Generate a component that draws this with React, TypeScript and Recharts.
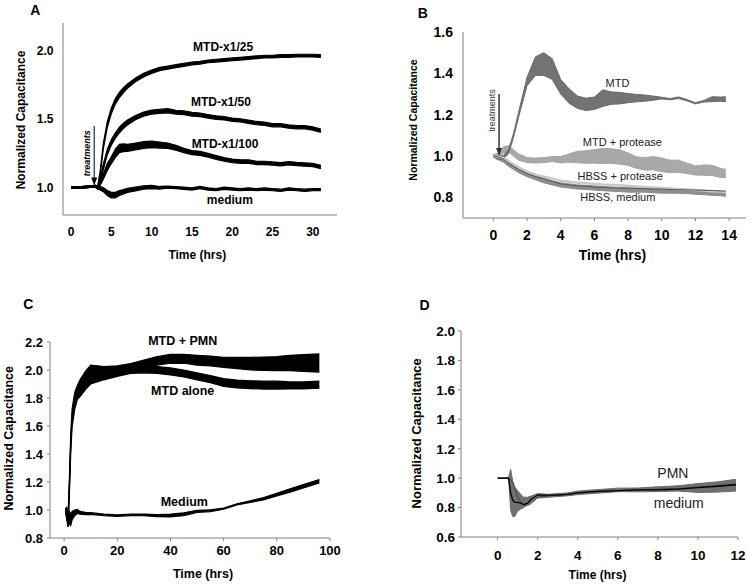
import React from 'react';
import { ComposedChart, Area, Line, XAxis, YAxis, ReferenceDot, ReferenceLine } from 'recharts';

const FONT = '"Liberation Sans", Arial, Helvetica, sans-serif';
const W = 750;
const H = 586;

// ---------------- Panel A ----------------
const timeA = [0, 1, 2, 3, 3.3, 3.6, 4, 4.5, 5, 5.5, 6, 6.5, 7, 8, 9, 10, 11, 12, 13, 14, 15, 16, 17, 18, 19, 20, 21, 22, 23, 24, 25, 26, 27, 28, 29, 30, 31];
const mtd25Mean = [1.0, 1.0, 1.005, 1.01, 1.0, 1.1, 1.3, 1.46, 1.56, 1.63, 1.675, 1.71, 1.74, 1.785, 1.82, 1.845, 1.865, 1.875, 1.885, 1.895, 1.905, 1.91, 1.92, 1.925, 1.93, 1.935, 1.94, 1.945, 1.95, 1.955, 1.955, 1.96, 1.96, 1.962, 1.962, 1.962, 1.96];
const mtd25Sem = [0.006, 0.006, 0.006, 0.006, 0.01, 0.015, 0.02, 0.02, 0.02, 0.02, 0.02, 0.018, 0.016, 0.014, 0.013, 0.012, 0.012, 0.011, 0.011, 0.011, 0.01, 0.01, 0.01, 0.01, 0.01, 0.01, 0.01, 0.01, 0.01, 0.01, 0.01, 0.01, 0.01, 0.01, 0.01, 0.01, 0.01];
const mtd50Mean = [1.0, 1.0, 1.005, 1.01, 1.0, 1.05, 1.15, 1.26, 1.33, 1.38, 1.42, 1.45, 1.475, 1.51, 1.535, 1.55, 1.555, 1.56, 1.55, 1.545, 1.535, 1.53, 1.52, 1.51, 1.505, 1.495, 1.49, 1.48, 1.47, 1.465, 1.455, 1.455, 1.445, 1.44, 1.44, 1.43, 1.415];
const mtd50Sem = [0.006, 0.006, 0.006, 0.006, 0.01, 0.015, 0.02, 0.02, 0.02, 0.02, 0.02, 0.02, 0.018, 0.016, 0.015, 0.015, 0.015, 0.015, 0.014, 0.014, 0.014, 0.013, 0.013, 0.013, 0.012, 0.012, 0.012, 0.012, 0.012, 0.012, 0.012, 0.012, 0.012, 0.012, 0.012, 0.012, 0.012];
const mtd100Mean = [1.0, 1.0, 1.005, 1.01, 1.0, 1.03, 1.08, 1.15, 1.2, 1.25, 1.285, 1.29, 1.29, 1.3, 1.31, 1.315, 1.31, 1.305, 1.29, 1.27, 1.255, 1.25, 1.235, 1.22, 1.205, 1.195, 1.19, 1.19, 1.18, 1.18, 1.175, 1.17, 1.178, 1.172, 1.168, 1.165, 1.15];
const mtd100Sem = [0.006, 0.006, 0.006, 0.006, 0.01, 0.015, 0.02, 0.025, 0.025, 0.03, 0.03, 0.028, 0.026, 0.025, 0.025, 0.024, 0.022, 0.02, 0.018, 0.016, 0.015, 0.015, 0.014, 0.014, 0.013, 0.013, 0.013, 0.013, 0.012, 0.012, 0.012, 0.012, 0.012, 0.012, 0.012, 0.012, 0.012];
const mediumAMean = [1.0, 1.0, 1.005, 1.01, 1.0, 0.995, 0.985, 0.96, 0.945, 0.945, 0.96, 0.97, 0.98, 0.99, 1.0, 1.005, 0.998, 1.003, 1.0, 0.995, 0.99, 1.0, 0.99, 0.985, 0.995, 0.99, 0.985, 0.99, 0.985, 0.99, 0.985, 0.98, 0.99, 0.985, 0.98, 0.985, 0.985];
const mediumASem = [0.006, 0.006, 0.006, 0.006, 0.008, 0.012, 0.015, 0.018, 0.02, 0.02, 0.018, 0.016, 0.015, 0.014, 0.012, 0.012, 0.01, 0.008, 0.008, 0.008, 0.008, 0.008, 0.008, 0.008, 0.008, 0.008, 0.008, 0.008, 0.008, 0.008, 0.008, 0.008, 0.008, 0.008, 0.008, 0.008, 0.008];
const xTicksA = [0, 5, 10, 15, 20, 25, 30];
const yTicksA = [1.0, 1.5, 2.0];

// ---------------- Panel B ----------------
const timeB = [0, 0.3, 0.6, 0.9, 1.2, 1.5, 2, 2.5, 3, 3.5, 4, 4.5, 5, 5.5, 6, 6.5, 7, 7.5, 8, 8.5, 9, 9.5, 10, 10.5, 11, 11.5, 12, 12.5, 13, 13.5, 13.8];
const mtdBMean = [1.0, 0.99, 0.995, 1.02, 1.1, 1.2, 1.36, 1.435, 1.445, 1.42, 1.335, 1.29, 1.26, 1.25, 1.255, 1.28, 1.28, 1.28, 1.28, 1.28, 1.28, 1.28, 1.28, 1.275, 1.282, 1.27, 1.255, 1.265, 1.275, 1.275, 1.275];
const mtdBSem = [0.005, 0.008, 0.008, 0.01, 0.01, 0.012, 0.02, 0.045, 0.055, 0.05, 0.035, 0.035, 0.03, 0.03, 0.03, 0.04, 0.03, 0.028, 0.022, 0.018, 0.015, 0.01, 0.004, 0.003, 0.004, 0.003, 0.003, 0.004, 0.012, 0.01, 0.012];
const mtdProtMean = [1.0, 1.005, 1.03, 1.035, 1.015, 0.995, 0.98, 0.978, 0.98, 0.985, 0.982, 0.99, 0.995, 0.995, 0.998, 1.0, 1.0, 0.995, 0.985, 0.968, 0.962, 0.965, 0.957, 0.95, 0.95, 0.94, 0.93, 0.932, 0.93, 0.918, 0.915];
const mtdProtSem = [0.005, 0.01, 0.015, 0.015, 0.015, 0.015, 0.012, 0.012, 0.012, 0.012, 0.016, 0.02, 0.028, 0.03, 0.033, 0.036, 0.035, 0.035, 0.03, 0.028, 0.03, 0.032, 0.033, 0.03, 0.03, 0.025, 0.022, 0.025, 0.025, 0.022, 0.02];
const hbssProt = [1.0, 0.995, 0.99, 0.975, 0.96, 0.945, 0.925, 0.91, 0.9, 0.89, 0.88, 0.875, 0.87, 0.868, 0.865, 0.862, 0.86, 0.858, 0.855, 0.852, 0.85, 0.848, 0.845, 0.843, 0.84, 0.838, 0.835, 0.833, 0.83, 0.828, 0.825];
const hbssMedMean = [1.0, 0.99, 0.98, 0.96, 0.945, 0.93, 0.91, 0.895, 0.88, 0.87, 0.86, 0.855, 0.85, 0.848, 0.845, 0.842, 0.84, 0.838, 0.835, 0.835, 0.835, 0.832, 0.83, 0.83, 0.83, 0.828, 0.825, 0.823, 0.82, 0.818, 0.815];
const hbssMedSem = [0.005, 0.008, 0.01, 0.01, 0.01, 0.01, 0.01, 0.01, 0.01, 0.01, 0.01, 0.01, 0.01, 0.01, 0.01, 0.01, 0.01, 0.01, 0.01, 0.01, 0.01, 0.01, 0.01, 0.01, 0.01, 0.01, 0.01, 0.01, 0.01, 0.01, 0.01];
const hbssLine = [1.0, 0.995, 0.985, 0.965, 0.95, 0.935, 0.915, 0.9, 0.89, 0.877, 0.865, 0.86, 0.856, 0.853, 0.85, 0.848, 0.846, 0.845, 0.845, 0.843, 0.842, 0.84, 0.84, 0.838, 0.837, 0.836, 0.835, 0.834, 0.833, 0.831, 0.83];
const xTicksB = [0, 2, 4, 6, 8, 10, 12, 14];
const yTicksB = [0.8, 1.0, 1.2, 1.4, 1.6];

// ---------------- Panel C ----------------
const timeC = [0.5, 1, 1.5, 2, 2.5, 3, 4, 5, 6, 8, 10, 15, 20, 25, 30, 35, 40, 45, 50, 55, 60, 65, 70, 75, 80, 85, 90, 96];
const pmnCMean = [1.0, 0.98, 0.93, 1.2, 1.5, 1.68, 1.8, 1.85, 1.88, 1.93, 1.97, 1.985, 1.995, 2.015, 2.04, 2.065, 2.08, 2.08, 2.07, 2.065, 2.055, 2.05, 2.045, 2.045, 2.045, 2.05, 2.05, 2.05];
const pmnCSem = [0.01, 0.03, 0.03, 0.03, 0.04, 0.04, 0.04, 0.04, 0.05, 0.06, 0.065, 0.04, 0.035, 0.03, 0.03, 0.03, 0.032, 0.032, 0.035, 0.035, 0.036, 0.04, 0.045, 0.048, 0.05, 0.055, 0.06, 0.065];
const aloneCMean = [1.0, 0.96, 0.91, 1.15, 1.45, 1.63, 1.76, 1.83, 1.86, 1.91, 1.95, 1.97, 1.985, 2.0, 2.005, 2.0, 1.99, 1.975, 1.955, 1.935, 1.91, 1.9, 1.895, 1.892, 1.892, 1.89, 1.89, 1.895];
const aloneCSem = [0.01, 0.03, 0.03, 0.03, 0.04, 0.04, 0.04, 0.04, 0.05, 0.05, 0.05, 0.04, 0.03, 0.025, 0.025, 0.025, 0.025, 0.025, 0.025, 0.025, 0.028, 0.028, 0.028, 0.028, 0.028, 0.025, 0.025, 0.025];
const mediumCMean = [1.0, 1.0, 0.9, 0.95, 0.93, 0.96, 0.98, 0.99, 0.98, 0.975, 0.975, 0.965, 0.96, 0.965, 0.965, 0.96, 0.96, 0.97, 0.99, 0.995, 1.01, 1.04, 1.06, 1.08, 1.11, 1.14, 1.17, 1.205];
const mediumCSem = [0.01, 0.02, 0.02, 0.04, 0.04, 0.03, 0.02, 0.015, 0.01, 0.008, 0.006, 0.005, 0.005, 0.005, 0.006, 0.008, 0.01, 0.01, 0.008, 0.006, 0.004, 0.004, 0.006, 0.008, 0.01, 0.012, 0.012, 0.012];
const xTicksC = [0, 20, 40, 60, 80, 100];
const yTicksC = [0.8, 1.0, 1.2, 1.4, 1.6, 1.8, 2.0, 2.2];

// ---------------- Panel D ----------------
const timeD = [0, 0.3, 0.55, 0.65, 0.75, 0.85, 1.0, 1.15, 1.3, 1.5, 1.7, 2, 2.5, 3, 3.5, 4, 5, 6, 7, 8, 9, 10, 11, 11.9];
const mediumDMean = [1.0, 1.0, 1.0, 0.92, 0.86, 0.84, 0.845, 0.84, 0.835, 0.845, 0.86, 0.88, 0.88, 0.885, 0.89, 0.9, 0.91, 0.92, 0.92, 0.925, 0.93, 0.933, 0.94, 0.952];
const mediumDSem = [0, 0, 0.005, 0.14, 0.12, 0.1, 0.07, 0.05, 0.035, 0.025, 0.02, 0.015, 0.01, 0.01, 0.01, 0.012, 0.012, 0.012, 0.013, 0.016, 0.018, 0.03, 0.035, 0.04];
const pmnD = [1.0, 1.0, 1.0, 0.9, 0.85, 0.835, 0.835, 0.83, 0.82, 0.83, 0.86, 0.885, 0.885, 0.885, 0.89, 0.9, 0.91, 0.915, 0.92, 0.92, 0.925, 0.935, 0.945, 0.955];
const mediumDLine = [1.0, 1.0, 1.0, 0.99, 0.97, 0.93, 0.87, 0.84, 0.82, 0.815, 0.83, 0.87, 0.88, 0.885, 0.89, 0.9, 0.91, 0.915, 0.92, 0.925, 0.93, 0.94, 0.95, 0.96];
const xTicksD = [0, 2, 4, 6, 8, 10, 12];
const yTicksD = [0.6, 0.8, 1.0, 1.2, 1.4, 1.6, 1.8, 2.0];

// ---------------- helpers ----------------
const band = (mean: number[], sem: number[], i: number) => [mean[i] - sem[i], mean[i] + sem[i]];

const dataA = timeA.map((t, i) => ({
  t,
  m25: band(mtd25Mean, mtd25Sem, i),
  m50: band(mtd50Mean, mtd50Sem, i),
  m100: band(mtd100Mean, mtd100Sem, i),
  med: band(mediumAMean, mediumASem, i),
}));
const dataB = timeB.map((t, i) => ({
  t,
  mtd: band(mtdBMean, mtdBSem, i),
  prot: band(mtdProtMean, mtdProtSem, i),
  hbssProt: hbssProt[i],
  hbssMed: band(hbssMedMean, hbssMedSem, i),
  hbss: hbssLine[i],
}));
const dataC = timeC.map((t, i) => ({
  t,
  pmn: band(pmnCMean, pmnCSem, i),
  alone: band(aloneCMean, aloneCSem, i),
  med: band(mediumCMean, mediumCSem, i),
}));
const dataD = timeD.map((t, i) => ({
  t,
  medBand: band(mediumDMean, mediumDSem, i),
  pmn: pmnD[i],
  medLine: mediumDLine[i],
}));

type Box = { l: number; t: number; r: number; b: number };
// axes are 1px thick/wide so the library draws them; margins compensate
const marginOf = (b: Box) => ({ top: b.t, left: b.l - 1, right: W - b.r, bottom: H - b.b - 1 });

const boxA: Box = { l: 63, t: 23, r: 337, b: 215 };
const boxB: Box = { l: 463, t: 32, r: 746, b: 218 };
const boxC: Box = { l: 50, t: 342, r: 330, b: 538 };
const boxD: Box = { l: 461, t: 331, r: 738, b: 537 };

const fmt1 = (v: number) => v.toFixed(1);

function xTitle(text: string, size: number, dy: number, dx: number) {
  return {
    content: (p: any) => {
      const vb = p.viewBox || {};
      const x = vb.x + vb.width / 2 + dx;
      const y = vb.y + dy;
      return (
        <text x={x} y={y} dy="0.355em" textAnchor="middle" fontFamily={FONT} fontWeight="bold" fontSize={size} fill="#000">
          {text}
        </text>
      );
    },
  };
}

function yTitle(text: string, size: number, offset: number, dy: number) {
  return {
    content: (p: any) => {
      const vb = p.viewBox || {};
      const cx = vb.x + vb.width - offset;
      const cy = vb.y + vb.height / 2 + dy;
      return (
        <text x={cx} y={cy} dy="0.355em" transform={`rotate(-90 ${cx} ${cy})`} textAnchor="middle" fontFamily={FONT} fontWeight="bold" fontSize={size} fill="#000">
          {text}
        </text>
      );
    },
  };
}

function tag(x: number, y: number, text: string, size: number, weight: string, color: string, extra: any = {}) {
  return (
    <ReferenceDot
      key={text}
      x={x}
      y={y}
      r={0}
      fill="none"
      stroke="none"
      ifOverflow="visible"
      label={{ value: text, position: 'center', fontSize: size, fontWeight: weight, fontFamily: FONT, fill: color, ...extra }}
    />
  );
}

const arrowHead = (color: string) => (p: any) => (
  <path d={`M${p.cx - 3},${p.cy - 8} L${p.cx + 3},${p.cy - 8} L${p.cx},${p.cy} Z`} fill={color} />
);

const layer: React.CSSProperties = { position: 'absolute', left: 0, top: 0, width: W, height: H };
const axisStroke = { stroke: '#808080', strokeWidth: 1 };

export default function App() {
  return (
    <div style={{ position: 'absolute', left: 0, top: 0, width: W, height: H, background: '#fff', overflow: 'hidden' }}>
      {/* Panel A */}
      <div style={layer}>
        <ComposedChart width={W} height={H} data={dataA} margin={marginOf(boxA)}>
          <XAxis dataKey="t" type="number" domain={[-1, 33]} ticks={xTicksA} interval={0} allowDataOverflow height={1}
            tickLine={false} tickSize={0} tickMargin={12} axisLine={axisStroke}
            tick={{ fill: '#000', fontSize: 12, fontWeight: 'bold', fontFamily: FONT }}
            label={xTitle('Time (hrs)', 12, 40, -2.7)} />
          <YAxis type="number" domain={[0.8, 2.2]} ticks={yTicksA} interval={0} allowDataOverflow width={1}
            tickLine={false} tickSize={0} tickMargin={9.5} axisLine={axisStroke} tickFormatter={fmt1}
            tick={{ fill: '#000', fontSize: 12, fontWeight: 'bold', fontFamily: FONT }}
            label={yTitle('Normalized Capacitance', 12, 42.3, 1)} />
          <Area type="linear" dataKey="med" stroke="#000" strokeWidth={1.2} fill="#000" fillOpacity={1} isAnimationActive={false} dot={false} activeDot={false} />
          <Area type="linear" dataKey="m100" stroke="#000" strokeWidth={1.2} fill="#000" fillOpacity={1} isAnimationActive={false} dot={false} activeDot={false} />
          <Area type="linear" dataKey="m50" stroke="#000" strokeWidth={1.2} fill="#000" fillOpacity={1} isAnimationActive={false} dot={false} activeDot={false} />
          <Area type="linear" dataKey="m25" stroke="#000" strokeWidth={1.2} fill="#000" fillOpacity={1} isAnimationActive={false} dot={false} activeDot={false} />
          <ReferenceLine segment={[{ x: 2.87, y: 1.45 }, { x: 2.87, y: 1.03 }]} stroke="#000" strokeWidth={1} ifOverflow="visible" />
          <ReferenceDot x={2.87} y={1.015} r={3} ifOverflow="visible" shape={arrowHead('#000')} />
          {tag(2.0, 1.25, 'treatments', 9, 'bold', '#000', { angle: -90, fontStyle: 'italic' })}
          {tag(18.87, 2.024, 'MTD-x1/25', 12, 'bold', '#000')}
          {tag(18.6, 1.628, 'MTD-x1/50', 12, 'bold', '#000')}
          {tag(19.1, 1.323, 'MTD-x1/100', 12, 'bold', '#000')}
          {tag(19.7, 0.908, 'medium', 12, 'bold', '#000')}
        </ComposedChart>
      </div>

      {/* Panel B */}
      <div style={layer}>
        <ComposedChart width={W} height={H} data={dataB} margin={marginOf(boxB)}>
          <XAxis dataKey="t" type="number" domain={[-1.8, 15]} ticks={xTicksB} interval={0} allowDataOverflow height={1}
            tickLine={{ stroke: '#808080' }} tickSize={3} tickMargin={9} axisLine={axisStroke}
            tick={{ fill: '#000', fontSize: 14, fontWeight: 'bold', fontFamily: FONT }}
            label={xTitle('Time (hrs)', 14, 37, 8)} />
          <YAxis type="number" domain={[0.7, 1.6]} ticks={yTicksB} interval={0} allowDataOverflow width={1}
            tickLine={false} tickSize={0} tickMargin={10} axisLine={axisStroke} tickFormatter={fmt1}
            tick={{ fill: '#000', fontSize: 14, fontWeight: 'bold', fontFamily: FONT }}
            label={yTitle('Normalized Capacitance', 10.5, 50, -5)} />
          <Area type="linear" dataKey="hbssMed" stroke="#8a8a8a" strokeWidth={1} fill="#8e8e8e" fillOpacity={1} isAnimationActive={false} dot={false} activeDot={false} />
          <Line type="linear" dataKey="hbssProt" stroke="#c8c8c8" strokeWidth={2.5} dot={false} activeDot={false} isAnimationActive={false} />
          <Line type="linear" dataKey="hbss" stroke="#555" strokeWidth={1} dot={false} activeDot={false} isAnimationActive={false} />
          <Area type="linear" dataKey="prot" stroke="#a4a4a4" strokeWidth={1} fill="#a8a8a8" fillOpacity={1} isAnimationActive={false} dot={false} activeDot={false} />
          <Area type="linear" dataKey="mtd" stroke="#6a6a6a" strokeWidth={1} fill="#737373" fillOpacity={1} isAnimationActive={false} dot={false} activeDot={false} />
          <ReferenceLine segment={[{ x: 0.34, y: 1.30 }, { x: 0.34, y: 1.02 }]} stroke="#333" strokeWidth={1.5} ifOverflow="visible" />
          <ReferenceDot x={0.34} y={1.0} r={3} ifOverflow="visible" shape={arrowHead('#333')} />
          {tag(-0.1, 1.22, 'treatments', 9, 'normal', '#333', { angle: -90 })}
          {tag(7.37, 1.353, 'MTD', 11, 'normal', '#222')}
          {tag(7.66, 1.069, 'MTD + protease', 11, 'normal', '#222')}
          {tag(7.53, 0.904, 'HBSS + protease', 11, 'normal', '#222')}
          {tag(7.39, 0.802, 'HBSS, medium', 11, 'normal', '#222')}
        </ComposedChart>
      </div>

      {/* Panel C */}
      <div style={layer}>
        <ComposedChart width={W} height={H} data={dataC} margin={marginOf(boxC)}>
          <XAxis dataKey="t" type="number" domain={[-5.3, 100]} ticks={xTicksC} interval={0} allowDataOverflow height={1}
            tickLine={{ stroke: '#808080' }} tickSize={3} tickMargin={4.5} axisLine={axisStroke}
            tick={{ fill: '#000', fontSize: 13, fontWeight: 'bold', fontFamily: FONT }}
            label={xTitle('Time (hrs)', 12.5, 35.3, 13)} />
          <YAxis type="number" domain={[0.8, 2.2]} ticks={yTicksC} interval={0} allowDataOverflow width={1}
            tickLine={{ stroke: '#808080' }} tickSize={3} tickMargin={4} axisLine={axisStroke} tickFormatter={fmt1}
            tick={{ fill: '#000', fontSize: 13, fontWeight: 'bold', fontFamily: FONT }}
            label={yTitle('Normalized Capacitance', 12.5, 41.7, -1.7)} />
          <Area type="linear" dataKey="med" stroke="#000" strokeWidth={1.2} fill="#000" fillOpacity={1} isAnimationActive={false} dot={false} activeDot={false} />
          <Area type="linear" dataKey="alone" stroke="#000" strokeWidth={1.2} fill="#000" fillOpacity={1} isAnimationActive={false} dot={false} activeDot={false} />
          <Area type="linear" dataKey="pmn" stroke="#000" strokeWidth={1.2} fill="#000" fillOpacity={1} isAnimationActive={false} dot={false} activeDot={false} />
          {tag(44.6, 2.212, 'MTD + PMN', 12.5, 'bold', '#000')}
          {tag(44.6, 1.855, 'MTD alone', 12.5, 'bold', '#000')}
          {tag(45.2, 1.057, 'Medium', 12.5, 'bold', '#000')}
        </ComposedChart>
      </div>

      {/* Panel D */}
      <div style={layer}>
        <ComposedChart width={W} height={H} data={dataD} margin={marginOf(boxD)}>
          <XAxis dataKey="t" type="number" domain={[-1.83, 12]} ticks={xTicksD} interval={0} allowDataOverflow height={1}
            tickLine={{ stroke: '#808080' }} tickSize={3} tickMargin={10} axisLine={axisStroke}
            tick={{ fill: '#000', fontSize: 13.5, fontWeight: 'bold', fontFamily: FONT }}
            label={xTitle('Time (hrs)', 12, 38, -2)} />
          <YAxis type="number" domain={[0.6, 2.0]} ticks={yTicksD} interval={0} allowDataOverflow width={1}
            tickLine={{ stroke: '#808080' }} tickSize={3} tickMargin={3} axisLine={axisStroke} tickFormatter={fmt1}
            tick={{ fill: '#000', fontSize: 13.5, fontWeight: 'bold', fontFamily: FONT }}
            label={yTitle('Normalized Capacitance', 13, 44.3, -0.7)} />
          <Area type="linear" dataKey="medBand" stroke="#6a6a6a" strokeWidth={1} fill="#707070" fillOpacity={1} isAnimationActive={false} dot={false} activeDot={false} />
          <Line type="linear" dataKey="medLine" stroke="#444" strokeWidth={1} dot={false} activeDot={false} isAnimationActive={false} />
          <Line type="linear" dataKey="pmn" stroke="#000" strokeWidth={1.3} dot={false} activeDot={false} isAnimationActive={false} />
          {tag(8.75, 1.038, 'PMN', 14, 'normal', '#222')}
          {tag(9.04, 0.831, 'medium', 14, 'normal', '#222')}
        </ComposedChart>
      </div>

      {/* Panel letters */}
      <svg width={W} height={H} style={{ position: 'absolute', left: 0, top: 0 }}>
        <g fontFamily={FONT} fontWeight="bold" fontSize={14} fill="#000" textAnchor="middle">
          <text x={35.3} y={15}>A</text>
          <text x={422.7} y={18.3}>B</text>
          <text x={28.3} y={309}>C</text>
          <text x={424.5} y={310.3}>D</text>
        </g>
      </svg>
    </div>
  );
}
